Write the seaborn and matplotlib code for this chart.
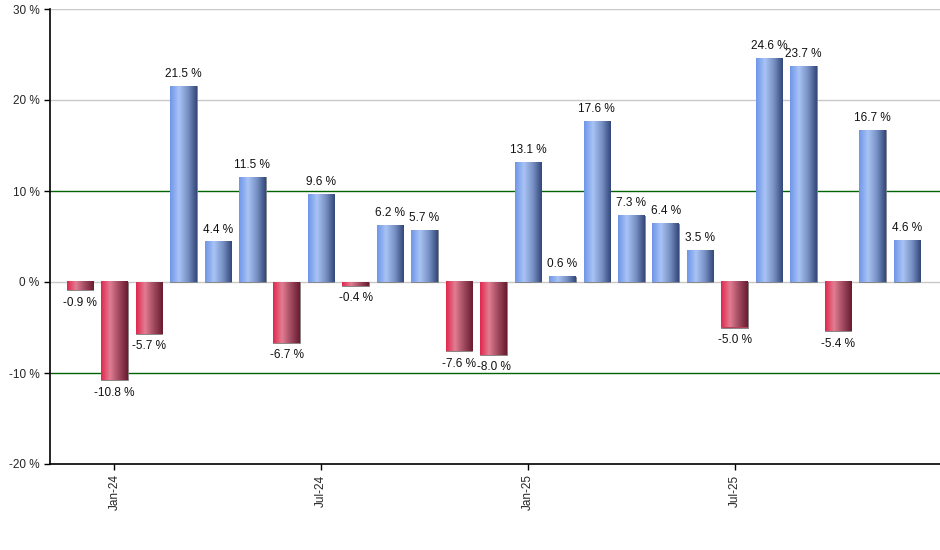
import numpy as np
import pandas as pd
import matplotlib
matplotlib.use("Agg")
import matplotlib.pyplot as plt
from matplotlib.colors import LinearSegmentedColormap
import seaborn as sns

# monthly returns, Dec-23 .. Dec-25
months = pd.date_range("2023-12-01", "2025-12-01", freq="MS").strftime("%b-%y").tolist()
values = [-0.9, -10.8, -5.7, 21.5, 4.4, 11.5, -6.7, 9.6, -0.4, 6.2, 5.7, -7.6, -8.0,
          13.1, 0.6, 17.6, 7.3, 6.4, 3.5, -5.0, 24.6, 23.7, -5.4, 16.7, 4.6]
tick_months = ["Jan-24", "Jul-24", "Jan-25", "Jul-25"]
y_ticks = [-20, -10, 0, 10, 20, 30]

df = pd.DataFrame({"month": months, "value": values})
df["sign"] = np.where(df["value"] >= 0, "up", "down")

sns.set_style("white")
plt.rcParams["font.family"] = ["Liberation Sans", "DejaVu Sans"]

fig = plt.figure(figsize=(9.4, 5.5), dpi=100)
ax = fig.add_axes([50 / 940, 1 - 464 / 550, 890 / 940, 455 / 550])

sns.barplot(data=df, x="month", y="value", hue="sign", dodge=False, legend=False,
            palette={"up": "#7f9fe0", "down": "#c83050"}, width=0.77, ax=ax,
            edgecolor="#808080", linewidth=0.6, zorder=2)

# gradient fills like the original cylinder-ish bars
cm_up = LinearSegmentedColormap.from_list("up", ["#6f96e8", "#a9c3f5", "#7891c4", "#34487a"])
cm_dn = LinearSegmentedColormap.from_list("dn", ["#e0284f", "#e27d92", "#a04a60", "#6a1c30"])
grad = np.linspace(0, 1, 64).reshape(1, -1)
for patch in ax.patches:
    x0, y0 = patch.get_x(), patch.get_y()
    w, h = patch.get_width(), patch.get_height()
    if h == 0:
        continue
    cmap = cm_up if h > 0 else cm_dn
    ax.imshow(grad, cmap=cmap, extent=[x0, x0 + w, min(y0, y0 + h), max(y0, y0 + h)],
              aspect="auto", zorder=2.5, interpolation="bilinear")

# value labels
for i, v in enumerate(values):
    if v >= 0:
        ax.text(i, v + 0.7, f"{v:.1f} %", ha="center", va="bottom", fontsize=8.5, color="#111111")
    else:
        ax.text(i, v - 0.7, f"{v:.1f} %", ha="center", va="top", fontsize=8.5, color="#111111")

# gridlines
for y in y_ticks[1:]:
    if abs(y) == 10:
        ax.axhline(y, color="#006400", lw=1.0, zorder=1)
    else:
        ax.axhline(y, color="#c8c8c8", lw=1.0, zorder=1)

ax.set_xlim(-0.87, len(values) - 0.04)
ax.set_ylim(-20, 30)
ax.set_yticks(y_ticks)
ax.set_yticklabels([f"{t} %" for t in y_ticks], fontsize=8.5)
ax.set_xticks([months.index(m) for m in tick_months])
ax.set_xticklabels(tick_months, rotation=90, fontsize=8.5)
ax.tick_params(axis="both", length=4, width=1, color="black", direction="out", bottom=True, left=True)
ax.set_xlabel("")
ax.set_ylabel("")

for s in ["top", "right"]:
    ax.spines[s].set_visible(False)
for s in ["left", "bottom"]:
    ax.spines[s].set_color("black")
    ax.spines[s].set_linewidth(1.2)

fig.savefig("out.png", dpi=100)
